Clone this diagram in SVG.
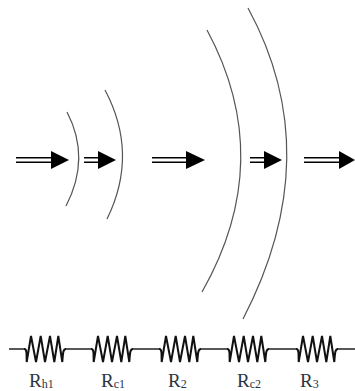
<svg xmlns="http://www.w3.org/2000/svg" width="355" height="391" viewBox="0 0 355 391">
<style>
.arc{fill:none;stroke:#555;stroke-width:1.2}
.shaft{fill:none;stroke:#000;stroke-width:1.4}
.head{fill:#000}
.res{fill:none;stroke:#111;stroke-width:2;stroke-linejoin:miter}
.wire{fill:none;stroke:#222;stroke-width:1.5}
text{font-family:"Liberation Serif","Times New Roman",serif;fill:#2a3340;font-size:19px}
.sub{font-size:12px}
</style>
<defs>
<path id="r" class="res" d="M0 0C2 0 2 1 2.500 4L2.700 13L7-13L12 13L16.700-13L21 13L26-13L30.300 13L34.300-13L38.300 13C39 2 39.500 0 42 0"/>
</defs>
<rect width="355" height="391" fill="#fff"/>
<g id="connectors">
<g id="arcs">
<path class="arc" d="M67 112Q91 158 66 206"/>
<path class="arc" d="M105 90Q139 154 107 219"/>
<path class="arc" d="M207 30Q277 160 202 292"/>
<path class="arc" d="M248 8Q328 155 243 319"/>
</g>
<g id="arrows">
<path class="shaft" d="M16 157.800H52M16 162.200H52"/><path class="head" d="M51 151L69 160L51 169Z"/>
<path class="shaft" d="M84 157.800H99M84 162.200H99"/><path class="head" d="M98 151L116 160L98 169Z"/>
<path class="shaft" d="M152 157.800H187M152 162.200H187"/><path class="head" d="M186 151L205 160L186 169Z"/>
<path class="shaft" d="M250 157.800H265M250 162.200H265"/><path class="head" d="M264 151L282 160L264 169Z"/>
<path class="shaft" d="M304 157.800H340M304 162.200H340"/><path class="head" d="M339 151L355 160L339 169Z"/>
</g>
<path class="wire" d="M9 349H25M65 349H92M132 349H160M200 349H228M268 349H297M337 349H355"/>
</g>
<g id="R1"><use href="#r" x="24" y="349"/><text x="29" y="386.500">R<tspan class="sub" dy="1.800">h1</tspan></text></g>
<g id="R2"><use href="#r" x="91" y="349"/><text x="101" y="386.500">R<tspan class="sub" dy="1.800">c1</tspan></text></g>
<g id="R3"><use href="#r" x="159" y="349"/><text x="168" y="386.500">R<tspan class="sub" dy="1.800">2</tspan></text></g>
<g id="R4"><use href="#r" x="227" y="349"/><text x="237" y="386.500">R<tspan class="sub" dy="1.800">c2</tspan></text></g>
<g id="R5"><use href="#r" x="296" y="349"/><text x="300" y="386.500">R<tspan class="sub" dy="1.800">3</tspan></text></g>
</svg>
